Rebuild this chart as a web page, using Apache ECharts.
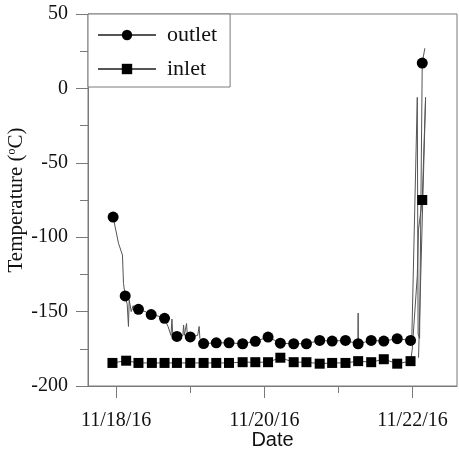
<!DOCTYPE html>
<html>
<head>
<meta charset="utf-8">
<script src="https://cdn.jsdelivr.net/npm/echarts@6/dist/echarts.min.js"></script>
<style>
html,body{margin:0;padding:0;background:#fff;}
#chart{width:459px;height:456px;}
</style>
</head>
<body>
<div id="chart"></div>
<script>
// x values are days since 11/18/16 00:00
var dateTickDays = [0, 1, 2, 3, 4];
var dateLabelDays = [0, 2, 4];
var dateLabels = {0: '11/18/16', 2: '11/20/16', 4: '11/22/16'};

var outletTraceDays = [-0.041, -0.014, 0.031, 0.085, 0.099, 0.122, 0.149, 0.166, 0.176, 0.203, 0.230, 0.257, 0.301, 0.392, 0.473, 0.568, 0.653, 0.700, 0.740, 0.753, 0.765, 0.820, 0.900, 0.910, 0.920, 0.950, 0.960, 1.000, 1.100, 1.120, 1.130, 1.180, 1.351, 1.523, 1.707, 1.878, 2.050, 2.216, 2.396, 2.568, 2.747, 2.915, 3.095, 3.262, 3.266, 3.270, 3.442, 3.612, 3.793, 3.973, 3.990, 4.064, 4.075, 4.095, 4.131, 4.166];
var outletTraceTemps = [-86.5, -93, -104, -112, -131, -139.5, -145, -160, -142, -150, -146, -149, -148.5, -150, -152, -153, -154.5, -160, -166, -155, -166, -166.7, -166, -159, -166, -158, -166, -167, -166, -160, -168, -171.5, -171, -171, -171.6, -170, -167.1, -171.2, -171.6, -171.6, -169.4, -169.8, -169.4, -171.6, -151, -171.6, -169.4, -169.8, -168.2, -169.4, -168, -6, -165, -168, 17, 27];

var outletMarkerDays = [-0.041, 0.122, 0.301, 0.473, 0.653, 0.820, 1.000, 1.180, 1.351, 1.523, 1.707, 1.878, 2.050, 2.216, 2.396, 2.568, 2.747, 2.915, 3.095, 3.266, 3.442, 3.612, 3.793, 3.973, 4.131];
var outletMarkerTemps = [-86.5, -139.5, -148.5, -152, -154.5, -166.7, -167, -171.5, -171, -171, -171.6, -170, -167.1, -171.2, -171.6, -171.6, -169.4, -169.8, -169.4, -171.6, -169.4, -169.8, -168.2, -169.4, 17];

var inletTraceDays = [-0.050, 0.135, 0.301, 0.482, 0.653, 0.820, 1.000, 1.180, 1.351, 1.523, 1.707, 1.878, 2.050, 2.216, 2.396, 2.568, 2.747, 2.915, 3.095, 3.266, 3.442, 3.612, 3.793, 3.973, 3.995, 4.064, 4.080, 4.131, 4.176, 4.081];
var inletTraceTemps = [-184.5, -183, -184.5, -184.5, -184.5, -184.5, -184.5, -184.5, -184.5, -184.5, -184, -184, -184, -181, -184, -184, -185, -184.5, -184.5, -183.3, -184, -182, -185, -183.3, -176, -126, -95, -75, -6, -181];

var inletMarkerDays = [-0.050, 0.135, 0.301, 0.482, 0.653, 0.820, 1.000, 1.180, 1.351, 1.523, 1.707, 1.878, 2.050, 2.216, 2.396, 2.568, 2.747, 2.915, 3.095, 3.266, 3.442, 3.612, 3.793, 3.973, 4.131];
var inletMarkerTemps = [-184.5, -183, -184.5, -184.5, -184.5, -184.5, -184.5, -184.5, -184.5, -184.5, -184, -184, -184, -181, -184, -184, -185, -184.5, -184.5, -183.3, -184, -182, -185, -183.3, -75];

function zip(xs, ys) { return xs.map(function (x, i) { return [x, ys[i]]; }); }

var serif = 'Liberation Serif, Times New Roman, serif';
var axisColor = '#7a7a7a';
var traceColor = '#555';

var chart = echarts.init(document.getElementById('chart'), null, {renderer: 'canvas'});
chart.setOption({
  animation: false,
  backgroundColor: '#fff',
  grid: {left: 88, top: 14, right: 2, bottom: 70, show: true, borderColor: axisColor, borderWidth: 1,
         backgroundColor: 'transparent', containLabel: false, outerBoundsMode: 'none'},
  legend: {
    left: 88, top: 14, orient: 'vertical',
    data: ['outlet', 'inlet'],
    itemWidth: 58, itemHeight: 13, itemGap: 12,
    padding: [10, 13, 7, 9],
    borderColor: axisColor, borderWidth: 1, backgroundColor: '#fff',
    textStyle: {fontFamily: serif, fontSize: 22, color: '#111', padding: [0, 0, 0, 6]},
    selectedMode: false
  },
  xAxis: [{
    type: 'value', min: -0.38, max: 4.6, position: 'bottom',
    name: 'Date', nameLocation: 'middle', nameGap: 44, nameMoveOverlap: false,
    nameTextStyle: {fontFamily: 'Liberation Sans, Arial, sans-serif', fontSize: 20, color: '#111'},
    axisLine: {show: true, onZero: false, lineStyle: {color: axisColor, width: 1}},
    axisTick: {show: true, customValues: dateLabelDays, length: 12, inside: false, lineStyle: {color: axisColor}},
    axisLabel: {customValues: dateLabelDays, formatter: function (v) { return dateLabels[Math.round(v)] || ''; }, margin: 25, fontFamily: serif, fontSize: 20, color: '#111'},
    splitLine: {show: false}
  }, {
    type: 'value', min: -0.38, max: 4.6, position: 'bottom', offset: 0,
    axisLine: {show: false, onZero: false},
    axisTick: {show: true, customValues: [1, 3], length: 7, inside: false, lineStyle: {color: axisColor}},
    axisLabel: {show: false},
    splitLine: {show: false}
  }],
  yAxis: {
    type: 'value', min: -200, max: 50, interval: 50,
    name: '{a|Temperature (}{b|o}{a|C)}', nameLocation: 'middle', nameGap: 61, nameRotate: 90,
    nameMoveOverlap: false,
    nameTextStyle: {rich: {
      a: {fontFamily: serif, fontSize: 21, color: '#111'},
      b: {fontFamily: serif, fontSize: 12, color: '#111', verticalAlign: 'top', padding: [0, 0, 8, 0]}
    }},
    axisLine: {show: true, onZero: false, lineStyle: {color: axisColor, width: 1}},
    axisTick: {show: true, length: 12, inside: false, lineStyle: {color: axisColor}},
    minorTick: {show: true, splitNumber: 2, length: 8, lineStyle: {color: axisColor}},
    axisLabel: {margin: 20, fontFamily: serif, fontSize: 20, color: '#111'},
    splitLine: {show: false}
  },
  series: [{
    name: 'outlet', type: 'line', data: zip(outletTraceDays, outletTraceTemps),
    symbol: 'circle', showSymbol: false, color: '#000',
    itemStyle: {color: '#000'},
    lineStyle: {color: traceColor, width: 1}, silent: true, z: 2
  }, {
    name: 'inlet', type: 'line', data: zip(inletTraceDays, inletTraceTemps),
    symbol: 'rect', showSymbol: false, color: '#000',
    itemStyle: {color: '#000'},
    lineStyle: {color: traceColor, width: 1}, silent: true, z: 2
  }, {
    name: 'outlet', type: 'scatter', data: zip(outletMarkerDays, outletMarkerTemps),
    symbol: 'circle', symbolSize: 11, itemStyle: {color: '#000', opacity: 1}, silent: true, z: 3
  }, {
    name: 'inlet', type: 'scatter', data: zip(inletMarkerDays, inletMarkerTemps),
    symbol: 'rect', symbolSize: 10, itemStyle: {color: '#000', opacity: 1}, silent: true, z: 3
  }]
});
</script>
</body>
</html>
